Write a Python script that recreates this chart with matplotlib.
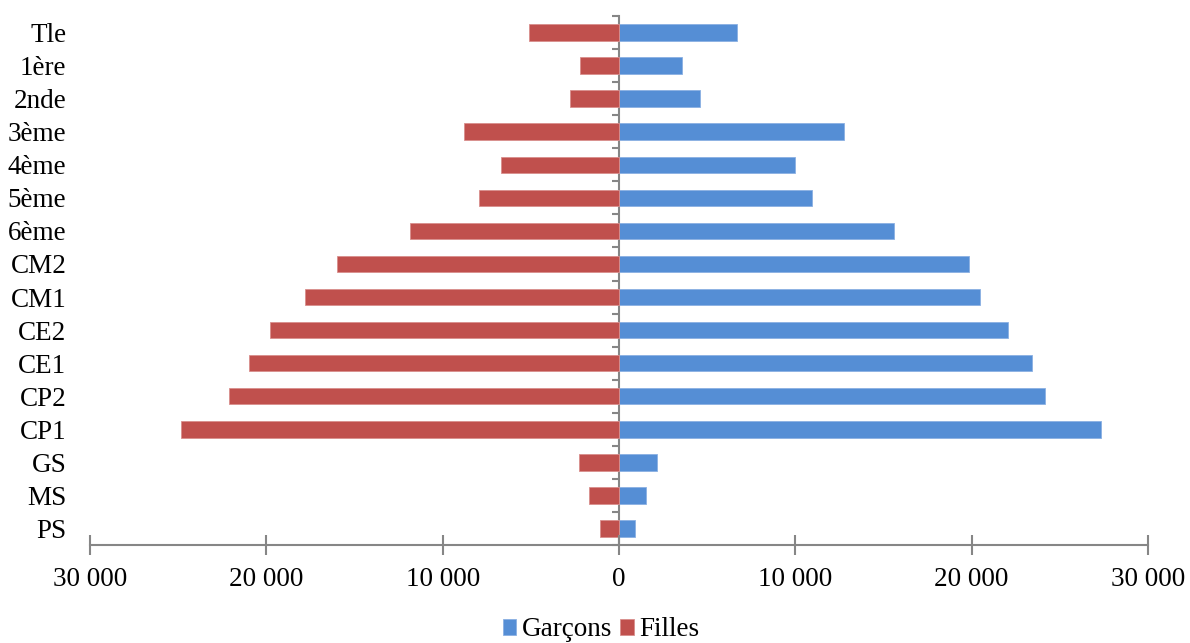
import matplotlib
matplotlib.use("Agg")
import matplotlib.pyplot as plt
import numpy as np

categories = ["PS", "MS", "GS", "CP1", "CP2", "CE1", "CE2", "CM1", "CM2",
              "6ème", "5ème", "4ème", "3ème", "2nde", "1ère", "Tle"]
garcons = [900, 1530, 2160, 27320, 24140, 23420, 22060, 20450, 19850,
           15600, 10950, 9980, 12760, 4600, 3600, 6700]
filles = [1080, 1700, 2270, 24840, 22120, 20970, 19780, 17790, 16010,
          11850, 7940, 6690, 8790, 2780, 2200, 5100]
xticks = [-30000, -20000, -10000, 0, 10000, 20000, 30000]
xticklabels = ["30 000", "20 000", "10 000", "0", "10 000", "20 000", "30 000"]

plt.rcParams['font.family'] = ['Liberation Serif', 'DejaVu Serif']
FS = 19.5
GREY = "#868686"
BLUE = "#558ED5"
RED = "#C0504D"

fig = plt.figure(figsize=(11.9, 6.43), dpi=100)
ax = fig.add_axes([90/1190, 1-545/643, (1148-90)/1190, (545-16)/643])

y = np.arange(len(categories))
ax.barh(y, garcons, height=0.5, color=BLUE, edgecolor="#8AB0E3", linewidth=0.6, label="Garçons")
ax.barh(y, [-v for v in filles], height=0.5, color=RED, edgecolor="#D98F8D", linewidth=0.6, label="Filles")

ax.set_xlim(-30000, 30000)
ax.set_ylim(-0.5, len(categories) - 0.5)

for s in ["top", "right", "left"]:
    ax.spines[s].set_visible(False)
ax.spines["bottom"].set_color(GREY)
ax.spines["bottom"].set_linewidth(1.5)

ax.set_xticks(xticks)
ax.set_xticklabels(xticklabels, fontsize=FS)
ax.tick_params(axis="x", direction="inout", length=14, width=1.5, color=GREY, pad=9)

ax.set_yticks(y)
ax.set_yticklabels(categories, fontsize=FS)
ax.tick_params(axis="y", length=0, pad=17)

sec = ax.secondary_yaxis(0.5)
sec.set_yticks(np.arange(-0.5, len(categories), 1.0))
sec.set_yticklabels([])
sec.yaxis.set_ticks_position("left")
sec.tick_params(axis="y", which="both", direction="out", length=5, width=1.5, color=GREY,
                left=True, right=False)
for sp in sec.spines.values():
    sp.set_color(GREY)
    sp.set_linewidth(1.5)

handles, labels = ax.get_legend_handles_labels()
fig.legend(handles, labels, loc="center", bbox_to_anchor=(0.505, 1-630/643),
           ncol=2, frameon=False, fontsize=FS, handlelength=0.5, handleheight=0.5,
           handletextpad=0.2, columnspacing=0.3, borderpad=0)

fig.savefig("out.png", dpi=100)
